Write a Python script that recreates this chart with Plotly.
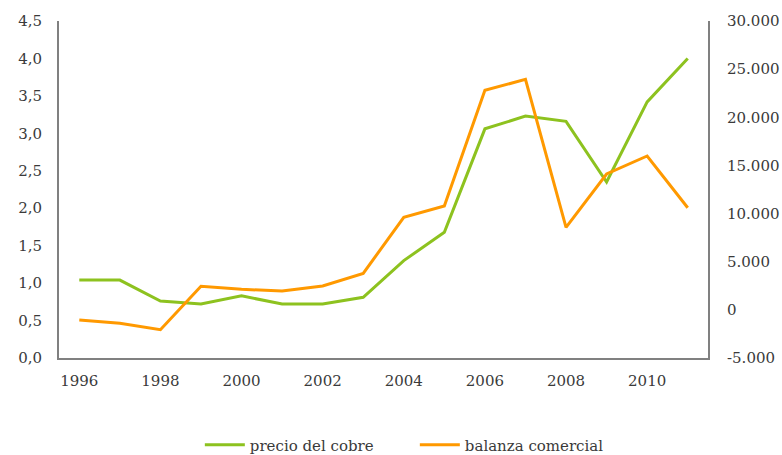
import plotly.graph_objects as go

years = list(range(1996, 2012))
precio_cobre = [1.04, 1.04, 0.76, 0.72, 0.83, 0.72, 0.72, 0.81, 1.30, 1.68,
                3.06, 3.23, 3.16, 2.35, 3.42, 4.00]
balanza_comercial = [-1050, -1400, -2060, 2450, 2130, 1960, 2480, 3790, 9610, 10790,
                     22800, 23940, 8570, 14110, 15980, 10610]

left_ticks = [0, 0.5, 1, 1.5, 2, 2.5, 3, 3.5, 4, 4.5]
left_labels = ["0,0", "0,5", "1,0", "1,5", "2,0", "2,5", "3,0", "3,5", "4,0", "4,5"]
right_ticks = [-5000, 0, 5000, 10000, 15000, 20000, 25000, 30000]
right_labels = ["-5.000", "0", "5.000", "10.000", "15.000", "20.000", "25.000", "30.000"]
x_ticks = [1996, 1998, 2000, 2002, 2004, 2006, 2008, 2010]

green = "#8DC21F"
orange = "#FF9900"
axis_col = "#808080"
font = "DejaVu Serif"

fig = go.Figure()
fig.add_trace(go.Scatter(x=years, y=precio_cobre, mode="lines", name="precio del cobre",
                         line=dict(color=green, width=3), yaxis="y"))
fig.add_trace(go.Scatter(x=years, y=balanza_comercial, mode="lines", name="balanza comercial",
                         line=dict(color=orange, width=3), yaxis="y2"))

fig.update_layout(
    width=782, height=455,
    margin=dict(l=59, r=74, t=21, b=97, autoexpand=False),
    paper_bgcolor="white", plot_bgcolor="white",
    font=dict(family=font, size=15, color="#3a3a3a"),
    showlegend=True,
    legend=dict(orientation="h", x=0.217, xanchor="left", y=-0.258, yanchor="middle",
                font=dict(family=font, size=15, color="#3a3a3a"),
                entrywidth=160, entrywidthmode="pixels", itemwidth=40),
    xaxis=dict(range=[1995.5, 2011.5], tickvals=x_ticks, showgrid=False, zeroline=False,
               showline=True, linecolor=axis_col, linewidth=2, automargin=False,
               ticks="outside", ticklen=8, tickcolor="rgba(0,0,0,0)"),
    yaxis=dict(range=[0, 4.5], tickvals=left_ticks, ticktext=left_labels, showgrid=False,
               zeroline=False, showline=True, linecolor=axis_col, linewidth=2,
               automargin=False,
               ticks="outside", ticklen=12, tickcolor="rgba(0,0,0,0)"),
    yaxis2=dict(range=[-5000, 30000], tickvals=right_ticks, ticktext=right_labels,
                overlaying="y", side="right", showgrid=False, zeroline=False,
                showline=True, linecolor=axis_col, linewidth=2, automargin=False,
                ticks="outside", ticklen=14, tickcolor="rgba(0,0,0,0)"),
)

fig.write_html("out.html", config={"displayModeBar": False},
               post_script="document.body.style.margin='0px';")
